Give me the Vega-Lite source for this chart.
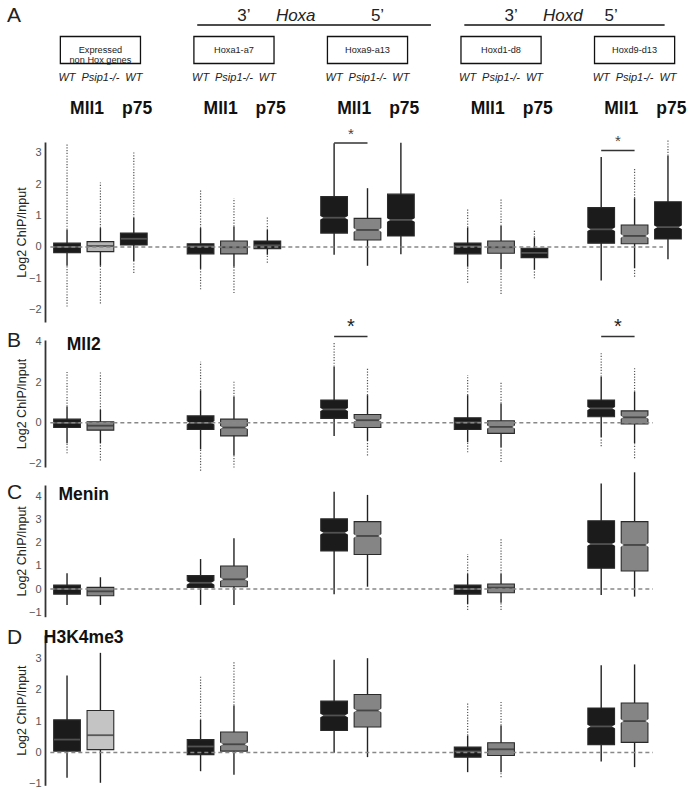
{
  "$schema": "https://vega.github.io/schema/vega-lite/v6.json",
  "padding": {"left": 7, "top": 0, "right": 0, "bottom": 0},
  "bounds": "flush",
  "spacing": 18,
  "config": {
    "font": "Liberation Sans",
    "view": {"stroke": null},
    "axis": {"domainColor": "#333", "domainWidth": 1.8, "ticks": false, "labelPadding": 4, "labelOverlap": false, "labelFontSize": 11, "labelColor": "#555", "labelFont": "Liberation Sans", "titleFont": "Liberation Sans", "titleFontSize": 12.5, "titleFontWeight": "normal", "titleColor": "#222", "titlePadding": 0, "grid": false}
  },
  "datasets": {
    "boxes": [
      {"panel":"A","slot":"1a","cond":"WT Mll1","lo":-0.6,"q1":-0.18,"med":0.0,"q3":0.12,"hi":0.55,"omin":-1.9,"omax":3.3},
      {"panel":"A","slot":"1b","cond":"Psip1-/- Mll1","lo":-0.6,"q1":-0.15,"med":0.03,"q3":0.17,"hi":0.6,"omin":-1.8,"omax":2.05},
      {"panel":"A","slot":"1c","cond":"WT p75","lo":-0.45,"q1":0.06,"med":0.26,"q3":0.44,"hi":0.92,"omin":-0.83,"omax":3.05},
      {"panel":"A","slot":"2a","cond":"WT Mll1","lo":-0.7,"q1":-0.22,"med":0.02,"q3":0.1,"hi":0.6,"omin":-1.35,"omax":1.85},
      {"panel":"A","slot":"2b","cond":"Psip1-/- Mll1","lo":-0.63,"q1":-0.22,"med":-0.01,"q3":0.19,"hi":0.65,"omin":-1.47,"omax":1.55},
      {"panel":"A","slot":"2c","cond":"WT p75","lo":-0.25,"q1":-0.06,"med":0.05,"q3":0.19,"hi":0.54,"omin":-0.5,"omax":0.95},
      {"panel":"A","slot":"3a","cond":"WT Mll1","lo":-0.25,"q1":0.44,"med":0.93,"q3":1.6,"hi":3.3,"omin":-0.25,"omax":3.3},
      {"panel":"A","slot":"3b","cond":"Psip1-/- Mll1","lo":-0.6,"q1":0.22,"med":0.54,"q3":0.91,"hi":1.87,"omin":-0.6,"omax":1.87},
      {"panel":"A","slot":"3c","cond":"WT p75","lo":-0.23,"q1":0.35,"med":0.86,"q3":1.68,"hi":3.32,"omin":-0.23,"omax":3.32},
      {"panel":"A","slot":"4a","cond":"WT Mll1","lo":-0.63,"q1":-0.22,"med":0.02,"q3":0.12,"hi":0.62,"omin":-1.14,"omax":1.25},
      {"panel":"A","slot":"4b","cond":"Psip1-/- Mll1","lo":-0.71,"q1":-0.2,"med":-0.01,"q3":0.19,"hi":0.67,"omin":-1.5,"omax":1.52},
      {"panel":"A","slot":"4c","cond":"WT p75","lo":-0.73,"q1":-0.34,"med":-0.19,"q3":-0.04,"hi":0.3,"omin":-1.0,"omax":0.54},
      {"panel":"A","slot":"5a","cond":"WT Mll1","lo":-1.07,"q1":0.12,"med":0.56,"q3":1.25,"hi":2.86,"omin":-1.07,"omax":2.86},
      {"panel":"A","slot":"5b","cond":"Psip1-/- Mll1","lo":-0.68,"q1":0.1,"med":0.35,"q3":0.7,"hi":1.55,"omin":-0.95,"omax":2.5},
      {"panel":"A","slot":"5c","cond":"WT p75","lo":-0.39,"q1":0.25,"med":0.63,"q3":1.44,"hi":2.9,"omin":-0.39,"omax":3.4},
      {"panel":"B","slot":"1a","cond":"WT Mll1","lo":-1.0,"q1":-0.23,"med":0.0,"q3":0.18,"hi":0.8,"omin":-1.5,"omax":2.5},
      {"panel":"B","slot":"1b","cond":"Psip1-/- Mll1","lo":-1.0,"q1":-0.36,"med":-0.14,"q3":0.05,"hi":0.63,"omin":-1.85,"omax":2.5},
      {"panel":"B","slot":"2a","cond":"WT Mll1","lo":-1.3,"q1":-0.33,"med":0.0,"q3":0.34,"hi":1.6,"omin":-2.35,"omax":3.0},
      {"panel":"B","slot":"2b","cond":"Psip1-/- Mll1","lo":-1.6,"q1":-0.64,"med":-0.23,"q3":0.18,"hi":1.28,"omin":-2.2,"omax":2.02},
      {"panel":"B","slot":"3a","cond":"WT Mll1","lo":-0.65,"q1":0.22,"med":0.66,"q3":1.12,"hi":2.76,"omin":-0.65,"omax":4.0},
      {"panel":"B","slot":"3b","cond":"Psip1-/- Mll1","lo":-0.9,"q1":-0.23,"med":0.13,"q3":0.41,"hi":1.36,"omin":-1.6,"omax":2.68},
      {"panel":"B","slot":"4a","cond":"WT Mll1","lo":-0.95,"q1":-0.33,"med":0.02,"q3":0.25,"hi":1.36,"omin":-1.45,"omax":2.35},
      {"panel":"B","slot":"4b","cond":"Psip1-/- Mll1","lo":-1.2,"q1":-0.52,"med":-0.2,"q3":0.1,"hi":0.95,"omin":-1.92,"omax":2.02},
      {"panel":"B","slot":"5a","cond":"WT Mll1","lo":-0.69,"q1":0.3,"med":0.71,"q3":1.12,"hi":2.27,"omin":-1.15,"omax":3.42},
      {"panel":"B","slot":"5b","cond":"Psip1-/- Mll1","lo":-1.0,"q1":-0.06,"med":0.27,"q3":0.59,"hi":1.53,"omin":-1.74,"omax":2.68},
      {"panel":"C","slot":"1a","cond":"WT Mll1","lo":-0.69,"q1":-0.22,"med":0.0,"q3":0.17,"hi":0.68,"omin":-0.69,"omax":0.68},
      {"panel":"C","slot":"1b","cond":"Psip1-/- Mll1","lo":-0.69,"q1":-0.29,"med":-0.1,"q3":0.07,"hi":0.51,"omin":-0.69,"omax":0.51},
      {"panel":"C","slot":"2a","cond":"WT Mll1","lo":-0.69,"q1":0.07,"med":0.27,"q3":0.58,"hi":1.3,"omin":-0.69,"omax":1.3},
      {"panel":"C","slot":"2b","cond":"Psip1-/- Mll1","lo":-0.69,"q1":0.1,"med":0.42,"q3":1.0,"hi":2.2,"omin":-0.69,"omax":2.2},
      {"panel":"C","slot":"3a","cond":"WT Mll1","lo":-0.23,"q1":1.65,"med":2.44,"q3":3.04,"hi":4.22,"omin":-0.23,"omax":4.22},
      {"panel":"C","slot":"3b","cond":"Psip1-/- Mll1","lo":0.1,"q1":1.5,"med":2.3,"q3":2.92,"hi":4.08,"omin":0.1,"omax":4.08},
      {"panel":"C","slot":"4a","cond":"WT Mll1","lo":-0.65,"q1":-0.22,"med":0.0,"q3":0.17,"hi":0.65,"omin":-0.91,"omax":1.52},
      {"panel":"C","slot":"4b","cond":"Psip1-/- Mll1","lo":-0.59,"q1":-0.16,"med":0.06,"q3":0.22,"hi":0.65,"omin":-0.91,"omax":2.2},
      {"panel":"C","slot":"5a","cond":"WT Mll1","lo":-0.26,"q1":0.9,"med":1.95,"q3":2.96,"hi":4.58,"omin":-0.26,"omax":4.58},
      {"panel":"C","slot":"5b","cond":"Psip1-/- Mll1","lo":-0.33,"q1":0.78,"med":1.91,"q3":2.92,"hi":5.06,"omin":-0.33,"omax":5.06},
      {"panel":"D","slot":"1a","cond":"WT Mll1","lo":-0.81,"q1":0.04,"med":0.41,"q3":1.04,"hi":2.46,"omin":-0.81,"omax":2.46},
      {"panel":"D","slot":"1b","cond":"Psip1-/- Mll1","lo":-0.97,"q1":0.09,"med":0.55,"q3":1.34,"hi":3.18,"omin":-0.97,"omax":3.18},
      {"panel":"D","slot":"2a","cond":"WT Mll1","lo":-0.6,"q1":-0.07,"med":0.19,"q3":0.41,"hi":1.04,"omin":-0.6,"omax":2.46},
      {"panel":"D","slot":"2b","cond":"Psip1-/- Mll1","lo":-0.71,"q1":0.04,"med":0.26,"q3":0.65,"hi":1.5,"omin":-0.71,"omax":2.89},
      {"panel":"D","slot":"3a","cond":"WT Mll1","lo":-0.01,"q1":0.7,"med":1.18,"q3":1.64,"hi":2.96,"omin":-0.01,"omax":2.96},
      {"panel":"D","slot":"3b","cond":"Psip1-/- Mll1","lo":-0.15,"q1":0.81,"med":1.34,"q3":1.85,"hi":3.01,"omin":-0.15,"omax":3.01},
      {"panel":"D","slot":"4a","cond":"WT Mll1","lo":-0.63,"q1":-0.15,"med":0.03,"q3":0.17,"hi":0.54,"omin":-0.63,"omax":1.61},
      {"panel":"D","slot":"4b","cond":"Psip1-/- Mll1","lo":-0.63,"q1":-0.1,"med":0.1,"q3":0.31,"hi":0.86,"omin":-0.79,"omax":1.61},
      {"panel":"D","slot":"5a","cond":"WT Mll1","lo":-0.29,"q1":0.25,"med":0.83,"q3":1.42,"hi":2.78,"omin":-0.29,"omax":2.78},
      {"panel":"D","slot":"5b","cond":"Psip1-/- Mll1","lo":-0.47,"q1":0.32,"med":1.0,"q3":1.58,"hi":2.81,"omin":-0.47,"omax":2.81}
    ],
    "sig": [
      {"panel":"A","from":"3a","to":"3b","y":3.31,"ys":3.6},
      {"panel":"A","from":"5a","to":"5b","y":3.07,"ys":3.36},
      {"panel":"B","from":"3a","to":"3b","y":4.24,"ys":4.7},
      {"panel":"B","from":"5a","to":"5b","y":4.24,"ys":4.7}
    ],
    "labels": [
      {"panel":"A","letter":"A","name":""},
      {"panel":"B","letter":"B","name":"Mll2"},
      {"panel":"C","letter":"C","name":"Menin"},
      {"panel":"D","letter":"D","name":"H3K4me3"}
    ],
    "hdr": [
      {"kind":"letter","row":"hox","slot":"1a","text":"A"},
      {"kind":"bracket","row":"hox","slot":"2a","slot2":"s3"},
      {"kind":"bracket","row":"hox","slot":"4a","slot2":"5c"},
      {"kind":"prime","row":"hox","slot":"2b","text":"3’"},
      {"kind":"prime","row":"hox","slot":"3b","text":"5’"},
      {"kind":"prime","row":"hox","slot":"4b","text":"3’"},
      {"kind":"prime","row":"hox","slot":"5a","text":"5’"},
      {"kind":"cluster","row":"hox","slot":"s2","text":"Hoxa"},
      {"kind":"cluster","row":"hox","slot":"s4","text":"Hoxd"},
      {"kind":"box","row":"box","slot":"1a","slot2":"1c"},
      {"kind":"box","row":"box","slot":"2a","slot2":"2c"},
      {"kind":"box","row":"box","slot":"3a","slot2":"3c"},
      {"kind":"box","row":"box","slot":"4a","slot2":"4c"},
      {"kind":"box","row":"box","slot":"5a","slot2":"5c"},
      {"kind":"boxlabel","row":"box","slot":"1b","text":"Expressed\nnon Hox genes"},
      {"kind":"boxlabel","row":"box","slot":"2b","text":"Hoxa1-a7"},
      {"kind":"boxlabel","row":"box","slot":"3b","text":"Hoxa9-a13"},
      {"kind":"boxlabel","row":"box","slot":"4b","text":"Hoxd1-d8"},
      {"kind":"boxlabel","row":"box","slot":"5b","text":"Hoxd9-d13"},
      {"kind":"geno","row":"geno","slot":"1a","text":"WT"},
      {"kind":"geno","row":"geno","slot":"1b","text":"Psip1-/-"},
      {"kind":"geno","row":"geno","slot":"1c","text":"WT"},
      {"kind":"geno","row":"geno","slot":"2a","text":"WT"},
      {"kind":"geno","row":"geno","slot":"2b","text":"Psip1-/-"},
      {"kind":"geno","row":"geno","slot":"2c","text":"WT"},
      {"kind":"geno","row":"geno","slot":"3a","text":"WT"},
      {"kind":"geno","row":"geno","slot":"3b","text":"Psip1-/-"},
      {"kind":"geno","row":"geno","slot":"3c","text":"WT"},
      {"kind":"geno","row":"geno","slot":"4a","text":"WT"},
      {"kind":"geno","row":"geno","slot":"4b","text":"Psip1-/-"},
      {"kind":"geno","row":"geno","slot":"4c","text":"WT"},
      {"kind":"geno","row":"geno","slot":"5a","text":"WT"},
      {"kind":"geno","row":"geno","slot":"5b","text":"Psip1-/-"},
      {"kind":"geno","row":"geno","slot":"5c","text":"WT"},
      {"kind":"mll","row":"prot","slot":"1b","text":"Mll1"},
      {"kind":"mll","row":"prot","slot":"2b","text":"Mll1"},
      {"kind":"mll","row":"prot","slot":"3b","text":"Mll1"},
      {"kind":"mll","row":"prot","slot":"4b","text":"Mll1"},
      {"kind":"mll","row":"prot","slot":"5b","text":"Mll1"},
      {"kind":"p75","row":"prot","slot":"1c","text":"p75"},
      {"kind":"p75","row":"prot","slot":"2c","text":"p75"},
      {"kind":"p75","row":"prot","slot":"3c","text":"p75"},
      {"kind":"p75","row":"prot","slot":"4c","text":"p75"},
      {"kind":"p75","row":"prot","slot":"5c","text":"p75"}
    ]
  },
  "vconcat": [
    {
      "width": 645, "height": 124,
      "data": {"name": "hdr"},
      "encoding": {
        "x": {"field": "slot", "type": "nominal", "axis": null, "scale": {"type": "band", "domain": ["1a","1b","1c","s1","2a","2b","2c","s2","3a","3b","3c","s3","4a","4b","4c","s4","5a","5b","5c"], "paddingInner": 0, "paddingOuter": 0.16}},
        "y": {"field": "row", "type": "nominal", "axis": null, "scale": {"type": "band", "domain": ["hox","box","geno","prot"], "paddingInner": 0, "paddingOuter": 0}}
      },
      "layer": [
        {"transform": [{"filter": "datum.kind === 'bracket'"}], "mark": {"type": "rule", "stroke": "#111", "strokeWidth": 1.3, "yOffset": 9.5},
         "encoding": {"x": {"field": "slot", "type": "nominal", "bandPosition": 0.4}, "x2": {"field": "slot2", "bandPosition": 0.4}}},
        {"transform": [{"filter": "datum.kind === 'prime'"}], "mark": {"type": "text", "fontSize": 17, "fill": "#222", "baseline": "middle"},
         "encoding": {"x": {"field": "slot", "type": "nominal", "bandPosition": 0.8}, "text": {"field": "text"}}},
        {"transform": [{"filter": "datum.kind === 'cluster'"}], "mark": {"type": "text", "fontSize": 17, "fontStyle": "italic", "fill": "#222", "baseline": "middle"},
         "encoding": {"x": {"field": "slot", "type": "nominal", "bandPosition": 0.35}, "text": {"field": "text"}}},
        {"transform": [{"filter": "datum.kind === 'letter'"}], "mark": {"type": "text", "fontSize": 21, "fill": "#222", "align": "left", "dx": -60, "baseline": "middle"},
         "encoding": {"text": {"field": "text"}}},
        {"transform": [{"filter": "datum.kind === 'box'"}], "mark": {"type": "rect", "fill": "#fff", "stroke": "#111", "strokeWidth": 1.3, "height": {"band": 0.87}, "yOffset": 3.5},
         "encoding": {"x": {"field": "slot", "type": "nominal", "bandPosition": 0.3}, "x2": {"field": "slot2", "bandPosition": 0.7}}},
        {"transform": [{"filter": "datum.kind === 'boxlabel'"}], "mark": {"type": "text", "fontSize": 9.2, "fill": "#222", "baseline": "middle", "lineBreak": "\n", "lineHeight": 10.5, "yOffset": 3},
         "encoding": {"text": {"field": "text"}}},
        {"transform": [{"filter": "datum.kind === 'geno'"}], "mark": {"type": "text", "fontSize": 11, "fontStyle": "italic", "fill": "#222", "baseline": "middle"},
         "encoding": {"text": {"field": "text"}}},
        {"transform": [{"filter": "datum.kind === 'mll'"}], "mark": {"type": "text", "fontSize": 17.5, "fontWeight": "bold", "fill": "#111", "baseline": "middle"},
         "encoding": {"x": {"field": "slot", "type": "nominal", "bandPosition": 0.1}, "text": {"field": "text"}}},
        {"transform": [{"filter": "datum.kind === 'p75'"}], "mark": {"type": "text", "fontSize": 17.5, "fontWeight": "bold", "fill": "#111", "baseline": "middle"},
         "encoding": {"x": {"field": "slot", "type": "nominal", "bandPosition": 0.6}, "text": {"field": "text"}}}
      ]
    },
    {
      "width": 645, "height": 180,
      "encoding": {"x": {"field": "slot", "type": "nominal", "axis": null, "scale": {"type": "band", "domain": ["1a","1b","1c","s1","2a","2b","2c","s2","3a","3b","3c","s3","4a","4b","4c","s4","5a","5b","5c"], "paddingInner": 0, "paddingOuter": 0.16}}},
      "layer": [
        {"data": {"name": "boxes"}, "transform": [{"filter": "datum.panel === 'A'"}], "mark": {"type": "rule", "stroke": "#222", "strokeWidth": 1.4},
         "encoding": {"y": {"field": "lo", "type": "quantitative", "title": "Log2 ChIP/Input", "scale": {"domain": [-2.39, 3.34], "nice": false, "zero": false}, "axis": {"values": [-2, -1, 0, 1, 2, 3], "labelOverlap": false}}, "y2": {"field": "hi"}}},
        {"data": {"name": "boxes"}, "transform": [{"filter": "datum.panel === 'A'"}], "mark": {"type": "rule", "stroke": "#555", "strokeWidth": 1.2, "strokeDash": [1.2, 1.6]},
         "encoding": {"y": {"field": "hi", "type": "quantitative", "title": "Log2 ChIP/Input", "axis": {"values": [-2, -1, 0, 1, 2, 3], "labelOverlap": false}}, "y2": {"field": "omax"}}},
        {"data": {"name": "boxes"}, "transform": [{"filter": "datum.panel === 'A'"}], "mark": {"type": "rule", "stroke": "#555", "strokeWidth": 1.2, "strokeDash": [1.2, 1.6]},
         "encoding": {"y": {"field": "omin", "type": "quantitative", "title": "Log2 ChIP/Input", "axis": {"values": [-2, -1, 0, 1, 2, 3], "labelOverlap": false}}, "y2": {"field": "lo"}}},
        {"data": {"name": "boxes"}, "transform": [{"filter": "datum.panel === 'A'"}], "mark": {"type": "bar", "width": {"band": 0.8}, "stroke": "#2a2a2a", "strokeWidth": 1.1},
         "encoding": {"y": {"field": "q1", "type": "quantitative", "title": "Log2 ChIP/Input", "axis": {"values": [-2, -1, 0, 1, 2, 3], "labelOverlap": false}}, "y2": {"field": "q3"},
           "fill": {"condition": [{"test": "datum.slot === '1b' && (datum.panel === 'A' || datum.panel === 'D')", "value": "#b5b5b5"}, {"test": "datum.cond === 'Psip1-/- Mll1'", "value": "#858585"}], "value": "#1b1b1b"}}},
        {"data": {"name": "boxes"}, "transform": [{"filter": "datum.panel === 'A'"}], "mark": {"type": "tick", "thickness": 1.8, "size": 26},
         "encoding": {"y": {"field": "med", "type": "quantitative", "title": "Log2 ChIP/Input", "axis": {"values": [-2, -1, 0, 1, 2, 3], "labelOverlap": false}}, "color": {"condition": {"test": "datum.cond === 'Psip1-/- Mll1'", "value": "#2b2b2b"}, "value": "#6a6a6a"}}},
        {"data": {"name": "boxes"}, "transform": [{"filter": "datum.panel === 'A' && datum.q3 - datum.q1 > 0.5"}], "mark": {"type": "point", "shape": "triangle-right", "filled": true, "fill": "#fff", "opacity": 1, "size": 36},
         "encoding": {"x": {"field": "slot", "type": "nominal", "bandPosition": 0.1}, "y": {"field": "med", "type": "quantitative", "title": "Log2 ChIP/Input", "axis": {"values": [-2, -1, 0, 1, 2, 3], "labelOverlap": false}}}},
        {"data": {"name": "boxes"}, "transform": [{"filter": "datum.panel === 'A' && datum.q3 - datum.q1 > 0.5"}], "mark": {"type": "point", "shape": "triangle-left", "filled": true, "fill": "#fff", "opacity": 1, "size": 36},
         "encoding": {"x": {"field": "slot", "type": "nominal", "bandPosition": 0.9}, "y": {"field": "med", "type": "quantitative", "title": "Log2 ChIP/Input", "axis": {"values": [-2, -1, 0, 1, 2, 3], "labelOverlap": false}}}},
        {"data": {"name": "labels"}, "transform": [{"filter": "datum.panel === 'A'"}], "mark": {"type": "rule", "stroke": "#888", "strokeWidth": 1.5, "strokeDash": [4, 3]},
         "encoding": {"x": {"datum": "1a", "type": "nominal", "bandPosition": 0}, "x2": {"datum": "5c", "bandPosition": 0.35}, "y": {"datum": 0, "type": "quantitative", "title": "Log2 ChIP/Input", "axis": {"values": [-2, -1, 0, 1, 2, 3], "labelOverlap": false}}}},
        {"data": {"name": "sig"}, "transform": [{"filter": "datum.panel === 'A'"}], "mark": {"type": "rule", "stroke": "#333", "strokeWidth": 1.4},
         "encoding": {"x": {"field": "from", "type": "nominal"}, "x2": {"field": "to"}, "y": {"field": "y", "type": "quantitative", "title": "Log2 ChIP/Input", "axis": {"values": [-2, -1, 0, 1, 2, 3], "labelOverlap": false}}}},
        {"data": {"name": "sig"}, "transform": [{"filter": "datum.panel === 'A'"}], "mark": {"type": "text", "text": "*", "fontSize": 15, "fill": "#444", "baseline": "middle"},
         "encoding": {"x": {"field": "from", "type": "nominal", "bandPosition": 1}, "y": {"field": "ys", "type": "quantitative", "title": "Log2 ChIP/Input", "axis": {"values": [-2, -1, 0, 1, 2, 3], "labelOverlap": false}}}}
      ]
    },
    {
      "width": 645, "height": 127,
      "encoding": {"x": {"field": "slot", "type": "nominal", "axis": null, "scale": {"type": "band", "domain": ["1a","1b","1c","s1","2a","2b","2c","s2","3a","3b","3c","s3","4a","4b","4c","s4","5a","5b","5c"], "paddingInner": 0, "paddingOuter": 0.16}}},
      "layer": [
        {"data": {"name": "boxes"}, "transform": [{"filter": "datum.panel === 'B'"}], "mark": {"type": "rule", "stroke": "#222", "strokeWidth": 1.4},
         "encoding": {"y": {"field": "lo", "type": "quantitative", "title": "Log2 ChIP/Input", "scale": {"domain": [-2.17, 4.07], "nice": false, "zero": false}, "axis": {"values": [-2, 0, 2, 4], "labelOverlap": false}}, "y2": {"field": "hi"}}},
        {"data": {"name": "boxes"}, "transform": [{"filter": "datum.panel === 'B'"}], "mark": {"type": "rule", "stroke": "#555", "strokeWidth": 1.2, "strokeDash": [1.2, 1.6]},
         "encoding": {"y": {"field": "hi", "type": "quantitative", "title": "Log2 ChIP/Input", "axis": {"values": [-2, 0, 2, 4], "labelOverlap": false}}, "y2": {"field": "omax"}}},
        {"data": {"name": "boxes"}, "transform": [{"filter": "datum.panel === 'B'"}], "mark": {"type": "rule", "stroke": "#555", "strokeWidth": 1.2, "strokeDash": [1.2, 1.6]},
         "encoding": {"y": {"field": "omin", "type": "quantitative", "title": "Log2 ChIP/Input", "axis": {"values": [-2, 0, 2, 4], "labelOverlap": false}}, "y2": {"field": "lo"}}},
        {"data": {"name": "boxes"}, "transform": [{"filter": "datum.panel === 'B'"}], "mark": {"type": "bar", "width": {"band": 0.8}, "stroke": "#2a2a2a", "strokeWidth": 1.1},
         "encoding": {"y": {"field": "q1", "type": "quantitative", "title": "Log2 ChIP/Input", "axis": {"values": [-2, 0, 2, 4], "labelOverlap": false}}, "y2": {"field": "q3"},
           "fill": {"condition": [{"test": "datum.slot === '1b' && (datum.panel === 'A' || datum.panel === 'D')", "value": "#b5b5b5"}, {"test": "datum.cond === 'Psip1-/- Mll1'", "value": "#858585"}], "value": "#1b1b1b"}}},
        {"data": {"name": "boxes"}, "transform": [{"filter": "datum.panel === 'B'"}], "mark": {"type": "tick", "thickness": 1.8, "size": 26},
         "encoding": {"y": {"field": "med", "type": "quantitative", "title": "Log2 ChIP/Input", "axis": {"values": [-2, 0, 2, 4], "labelOverlap": false}}, "color": {"condition": {"test": "datum.cond === 'Psip1-/- Mll1'", "value": "#2b2b2b"}, "value": "#6a6a6a"}}},
        {"data": {"name": "boxes"}, "transform": [{"filter": "datum.panel === 'B' && datum.q3 - datum.q1 > 0.6"}], "mark": {"type": "point", "shape": "triangle-right", "filled": true, "fill": "#fff", "opacity": 1, "size": 25},
         "encoding": {"x": {"field": "slot", "type": "nominal", "bandPosition": 0.1}, "y": {"field": "med", "type": "quantitative", "title": "Log2 ChIP/Input", "axis": {"values": [-2, 0, 2, 4], "labelOverlap": false}}}},
        {"data": {"name": "boxes"}, "transform": [{"filter": "datum.panel === 'B' && datum.q3 - datum.q1 > 0.6"}], "mark": {"type": "point", "shape": "triangle-left", "filled": true, "fill": "#fff", "opacity": 1, "size": 25},
         "encoding": {"x": {"field": "slot", "type": "nominal", "bandPosition": 0.9}, "y": {"field": "med", "type": "quantitative", "title": "Log2 ChIP/Input", "axis": {"values": [-2, 0, 2, 4], "labelOverlap": false}}}},
        {"data": {"name": "labels"}, "transform": [{"filter": "datum.panel === 'B'"}], "mark": {"type": "rule", "stroke": "#888", "strokeWidth": 1.5, "strokeDash": [4, 3]},
         "encoding": {"x": {"datum": "1a", "type": "nominal", "bandPosition": 0}, "x2": {"datum": "5c", "bandPosition": 0.05}, "y": {"datum": 0, "type": "quantitative", "title": "Log2 ChIP/Input", "axis": {"values": [-2, 0, 2, 4], "labelOverlap": false}}}},
        {"data": {"name": "sig"}, "transform": [{"filter": "datum.panel === 'B'"}], "mark": {"type": "rule", "stroke": "#333", "strokeWidth": 1.4},
         "encoding": {"x": {"field": "from", "type": "nominal"}, "x2": {"field": "to"}, "y": {"field": "y", "type": "quantitative", "title": "Log2 ChIP/Input", "axis": {"values": [-2, 0, 2, 4], "labelOverlap": false}}}},
        {"data": {"name": "sig"}, "transform": [{"filter": "datum.panel === 'B'"}], "mark": {"type": "text", "text": "*", "fontSize": 20, "fill": "#222", "baseline": "middle"},
         "encoding": {"x": {"field": "from", "type": "nominal", "bandPosition": 1}, "y": {"field": "ys", "type": "quantitative", "title": "Log2 ChIP/Input", "axis": {"values": [-2, 0, 2, 4], "labelOverlap": false}}}},
        {"data": {"name": "labels"}, "transform": [{"filter": "datum.panel === 'B'"}], "mark": {"type": "text", "fontSize": 21, "fill": "#222", "align": "left", "dx": -60, "baseline": "middle"},
         "encoding": {"x": {"datum": "1a", "type": "nominal"}, "y": {"datum": 4.03, "type": "quantitative", "title": "Log2 ChIP/Input", "axis": {"values": [-2, 0, 2, 4], "labelOverlap": false}}, "text": {"field": "letter"}}},
        {"data": {"name": "labels"}, "transform": [{"filter": "datum.panel === 'B'"}], "mark": {"type": "text", "fontSize": 17.5, "fontWeight": "bold", "fill": "#111", "baseline": "middle"},
         "encoding": {"x": {"datum": "1a", "type": "nominal", "bandPosition": 1}, "y": {"datum": 3.83, "type": "quantitative", "title": "Log2 ChIP/Input", "axis": {"values": [-2, 0, 2, 4], "labelOverlap": false}}, "text": {"field": "name"}}}
      ]
    },
    {
      "width": 645, "height": 131.7,
      "encoding": {"x": {"field": "slot", "type": "nominal", "axis": null, "scale": {"type": "band", "domain": ["1a","1b","1c","s1","2a","2b","2c","s2","3a","3b","3c","s3","4a","4b","4c","s4","5a","5b","5c"], "paddingInner": 0, "paddingOuter": 0.16}}},
      "layer": [
        {"data": {"name": "boxes"}, "transform": [{"filter": "datum.panel === 'C'"}], "mark": {"type": "rule", "stroke": "#222", "strokeWidth": 1.4},
         "encoding": {"y": {"field": "lo", "type": "quantitative", "title": "Log2 ChIP/Input", "scale": {"domain": [-1.2, 4.51], "nice": false, "zero": false}, "axis": {"values": [-1, 0, 1, 2, 3, 4], "labelOverlap": false}}, "y2": {"field": "hi"}}},
        {"data": {"name": "boxes"}, "transform": [{"filter": "datum.panel === 'C'"}], "mark": {"type": "rule", "stroke": "#555", "strokeWidth": 1.2, "strokeDash": [1.2, 1.6]},
         "encoding": {"y": {"field": "hi", "type": "quantitative", "title": "Log2 ChIP/Input", "axis": {"values": [-1, 0, 1, 2, 3, 4], "labelOverlap": false}}, "y2": {"field": "omax"}}},
        {"data": {"name": "boxes"}, "transform": [{"filter": "datum.panel === 'C'"}], "mark": {"type": "rule", "stroke": "#555", "strokeWidth": 1.2, "strokeDash": [1.2, 1.6]},
         "encoding": {"y": {"field": "omin", "type": "quantitative", "title": "Log2 ChIP/Input", "axis": {"values": [-1, 0, 1, 2, 3, 4], "labelOverlap": false}}, "y2": {"field": "lo"}}},
        {"data": {"name": "boxes"}, "transform": [{"filter": "datum.panel === 'C'"}], "mark": {"type": "bar", "width": {"band": 0.8}, "stroke": "#2a2a2a", "strokeWidth": 1.1},
         "encoding": {"y": {"field": "q1", "type": "quantitative", "title": "Log2 ChIP/Input", "axis": {"values": [-1, 0, 1, 2, 3, 4], "labelOverlap": false}}, "y2": {"field": "q3"},
           "fill": {"condition": [{"test": "datum.slot === '1b' && (datum.panel === 'A' || datum.panel === 'D')", "value": "#b5b5b5"}, {"test": "datum.cond === 'Psip1-/- Mll1'", "value": "#858585"}], "value": "#1b1b1b"}}},
        {"data": {"name": "boxes"}, "transform": [{"filter": "datum.panel === 'C'"}], "mark": {"type": "tick", "thickness": 1.8, "size": 26},
         "encoding": {"y": {"field": "med", "type": "quantitative", "title": "Log2 ChIP/Input", "axis": {"values": [-1, 0, 1, 2, 3, 4], "labelOverlap": false}}, "color": {"condition": {"test": "datum.cond === 'Psip1-/- Mll1'", "value": "#2b2b2b"}, "value": "#6a6a6a"}}},
        {"data": {"name": "boxes"}, "transform": [{"filter": "datum.panel === 'C' && datum.q3 - datum.q1 > 0.5"}], "mark": {"type": "point", "shape": "triangle-right", "filled": true, "fill": "#fff", "opacity": 1, "size": 36},
         "encoding": {"x": {"field": "slot", "type": "nominal", "bandPosition": 0.1}, "y": {"field": "med", "type": "quantitative", "title": "Log2 ChIP/Input", "axis": {"values": [-1, 0, 1, 2, 3, 4], "labelOverlap": false}}}},
        {"data": {"name": "boxes"}, "transform": [{"filter": "datum.panel === 'C' && datum.q3 - datum.q1 > 0.5"}], "mark": {"type": "point", "shape": "triangle-left", "filled": true, "fill": "#fff", "opacity": 1, "size": 36},
         "encoding": {"x": {"field": "slot", "type": "nominal", "bandPosition": 0.9}, "y": {"field": "med", "type": "quantitative", "title": "Log2 ChIP/Input", "axis": {"values": [-1, 0, 1, 2, 3, 4], "labelOverlap": false}}}},
        {"data": {"name": "labels"}, "transform": [{"filter": "datum.panel === 'C'"}], "mark": {"type": "rule", "stroke": "#888", "strokeWidth": 1.5, "strokeDash": [4, 3]},
         "encoding": {"x": {"datum": "1a", "type": "nominal", "bandPosition": 0}, "x2": {"datum": "5c", "bandPosition": 0.05}, "y": {"datum": 0, "type": "quantitative", "title": "Log2 ChIP/Input", "axis": {"values": [-1, 0, 1, 2, 3, 4], "labelOverlap": false}}}},
        {"data": {"name": "labels"}, "transform": [{"filter": "datum.panel === 'C'"}], "mark": {"type": "text", "fontSize": 21, "fill": "#222", "align": "left", "dx": -60, "baseline": "middle"},
         "encoding": {"x": {"datum": "1a", "type": "nominal"}, "y": {"datum": 4.16, "type": "quantitative", "title": "Log2 ChIP/Input", "axis": {"values": [-1, 0, 1, 2, 3, 4], "labelOverlap": false}}, "text": {"field": "letter"}}},
        {"data": {"name": "labels"}, "transform": [{"filter": "datum.panel === 'C'"}], "mark": {"type": "text", "fontSize": 17.5, "fontWeight": "bold", "fill": "#111", "baseline": "middle"},
         "encoding": {"x": {"datum": "1a", "type": "nominal", "bandPosition": 1}, "y": {"datum": 4.08, "type": "quantitative", "title": "Log2 ChIP/Input", "axis": {"values": [-1, 0, 1, 2, 3, 4], "labelOverlap": false}}, "text": {"field": "name"}}}
      ]
    },
    {
      "width": 645, "height": 150.3,
      "encoding": {"x": {"field": "slot", "type": "nominal", "axis": null, "scale": {"type": "band", "domain": ["1a","1b","1c","s1","2a","2b","2c","s2","3a","3b","3c","s3","4a","4b","4c","s4","5a","5b","5c"], "paddingInner": 0, "paddingOuter": 0.16}}},
      "layer": [
        {"data": {"name": "boxes"}, "transform": [{"filter": "datum.panel === 'D'"}], "mark": {"type": "rule", "stroke": "#222", "strokeWidth": 1.4},
         "encoding": {"y": {"field": "lo", "type": "quantitative", "title": "Log2 ChIP/Input", "scale": {"domain": [-1.05, 3.75], "nice": false, "zero": false}, "axis": {"values": [-1, 0, 1, 2, 3], "labelOverlap": false}}, "y2": {"field": "hi"}}},
        {"data": {"name": "boxes"}, "transform": [{"filter": "datum.panel === 'D'"}], "mark": {"type": "rule", "stroke": "#555", "strokeWidth": 1.2, "strokeDash": [1.2, 1.6]},
         "encoding": {"y": {"field": "hi", "type": "quantitative", "title": "Log2 ChIP/Input", "axis": {"values": [-1, 0, 1, 2, 3], "labelOverlap": false}}, "y2": {"field": "omax"}}},
        {"data": {"name": "boxes"}, "transform": [{"filter": "datum.panel === 'D'"}], "mark": {"type": "rule", "stroke": "#555", "strokeWidth": 1.2, "strokeDash": [1.2, 1.6]},
         "encoding": {"y": {"field": "omin", "type": "quantitative", "title": "Log2 ChIP/Input", "axis": {"values": [-1, 0, 1, 2, 3], "labelOverlap": false}}, "y2": {"field": "lo"}}},
        {"data": {"name": "boxes"}, "transform": [{"filter": "datum.panel === 'D'"}], "mark": {"type": "bar", "width": {"band": 0.8}, "stroke": "#2a2a2a", "strokeWidth": 1.1},
         "encoding": {"y": {"field": "q1", "type": "quantitative", "title": "Log2 ChIP/Input", "axis": {"values": [-1, 0, 1, 2, 3], "labelOverlap": false}}, "y2": {"field": "q3"},
           "fill": {"condition": [{"test": "datum.slot === '1b' && (datum.panel === 'A' || datum.panel === 'D')", "value": "#c4c4c4"}, {"test": "datum.cond === 'Psip1-/- Mll1'", "value": "#858585"}], "value": "#1b1b1b"}}},
        {"data": {"name": "boxes"}, "transform": [{"filter": "datum.panel === 'D'"}], "mark": {"type": "tick", "thickness": 1.8, "size": 26},
         "encoding": {"y": {"field": "med", "type": "quantitative", "title": "Log2 ChIP/Input", "axis": {"values": [-1, 0, 1, 2, 3], "labelOverlap": false}}, "color": {"condition": {"test": "datum.cond === 'Psip1-/- Mll1'", "value": "#2b2b2b"}, "value": "#6a6a6a"}}},
        {"data": {"name": "boxes"}, "transform": [{"filter": "datum.panel === 'D' && datum.q3 - datum.q1 > 0.5 && datum.slot !== '1a' && datum.slot !== '1b'"}], "mark": {"type": "point", "shape": "triangle-right", "filled": true, "fill": "#fff", "opacity": 1, "size": 36},
         "encoding": {"x": {"field": "slot", "type": "nominal", "bandPosition": 0.1}, "y": {"field": "med", "type": "quantitative", "title": "Log2 ChIP/Input", "axis": {"values": [-1, 0, 1, 2, 3], "labelOverlap": false}}}},
        {"data": {"name": "boxes"}, "transform": [{"filter": "datum.panel === 'D' && datum.q3 - datum.q1 > 0.5 && datum.slot !== '1a' && datum.slot !== '1b'"}], "mark": {"type": "point", "shape": "triangle-left", "filled": true, "fill": "#fff", "opacity": 1, "size": 36},
         "encoding": {"x": {"field": "slot", "type": "nominal", "bandPosition": 0.9}, "y": {"field": "med", "type": "quantitative", "title": "Log2 ChIP/Input", "axis": {"values": [-1, 0, 1, 2, 3], "labelOverlap": false}}}},
        {"data": {"name": "labels"}, "transform": [{"filter": "datum.panel === 'D'"}], "mark": {"type": "rule", "stroke": "#888", "strokeWidth": 1.5, "strokeDash": [4, 3]},
         "encoding": {"x": {"datum": "1a", "type": "nominal", "bandPosition": 0}, "x2": {"datum": "5c", "bandPosition": 0.05}, "y": {"datum": 0, "type": "quantitative", "title": "Log2 ChIP/Input", "axis": {"values": [-1, 0, 1, 2, 3], "labelOverlap": false}}}},
        {"data": {"name": "labels"}, "transform": [{"filter": "datum.panel === 'D'"}], "mark": {"type": "text", "fontSize": 21, "fill": "#222", "align": "left", "dx": -60, "baseline": "middle"},
         "encoding": {"x": {"datum": "1a", "type": "nominal"}, "y": {"datum": 3.67, "type": "quantitative", "title": "Log2 ChIP/Input", "axis": {"values": [-1, 0, 1, 2, 3], "labelOverlap": false}}, "text": {"field": "letter"}}},
        {"data": {"name": "labels"}, "transform": [{"filter": "datum.panel === 'D'"}], "mark": {"type": "text", "fontSize": 17.5, "fontWeight": "bold", "fill": "#111", "baseline": "middle"},
         "encoding": {"x": {"datum": "1a", "type": "nominal", "bandPosition": 1}, "y": {"datum": 3.64, "type": "quantitative", "title": "Log2 ChIP/Input", "axis": {"values": [-1, 0, 1, 2, 3], "labelOverlap": false}}, "text": {"field": "name"}}}
      ]
    }
  ]
}
